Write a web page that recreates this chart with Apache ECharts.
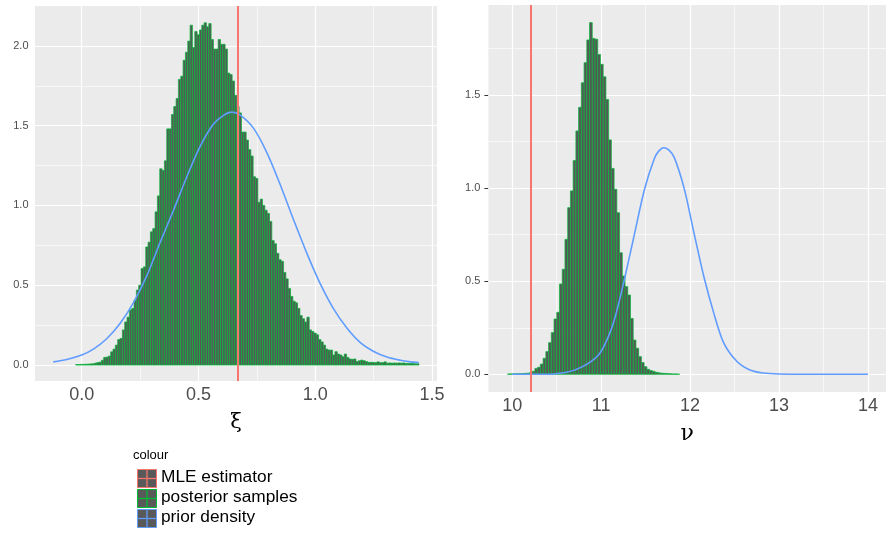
<!DOCTYPE html>
<html>
<head>
<meta charset="utf-8">
<script src="https://cdn.jsdelivr.net/npm/echarts@6/dist/echarts.min.js"></script>
<style>html,body{margin:0;padding:0;background:#fff}#c{width:886px;height:533px}</style>
</head>
<body>
<div id="c"></div>
<script>
// ---------- data ----------
// left panel (xi): histogram of posterior samples
const xiBinStart = -0.026;
const xiBinWidth = 0.01;
const xiHeights = [
  0.003,0.003,0.004,0.004,0.005,0.006,0.007,0.008,0.012,0.015,
  0.018,0.03,0.048,0.05,0.056,0.083,0.10,0.125,0.16,0.167,
  0.22,0.27,0.30,0.345,0.355,0.407,0.47,0.50,0.605,0.615,
  0.74,0.77,0.835,0.855,0.96,1.06,1.23,1.22,1.28,1.48,
  1.48,1.57,1.62,1.67,1.79,1.81,1.91,1.96,2.03,2.13,
  1.99,2.09,2.07,2.10,2.13,2.145,2.12,2.14,2.04,1.98,
  1.98,2.04,2.01,2.01,1.98,1.83,1.82,1.78,1.69,1.62,
  1.58,1.46,1.46,1.41,1.35,1.31,1.18,1.17,1.02,1.04,
  1.00,0.97,0.95,0.90,0.78,0.76,0.70,0.66,0.65,0.58,
  0.54,0.48,0.43,0.40,0.39,0.355,0.31,0.29,0.27,0.30,
  0.22,0.21,0.20,0.19,0.16,0.145,0.125,0.10,0.094,0.094,
  0.063,0.084,0.069,0.063,0.052,0.069,0.048,0.038,0.036,0.038,
  0.022,0.027,0.031,0.027,0.022,0.017,0.017,0.017,0.015,0.02,
  0.015,0.015,0.02,0.012,0.013,0.012,0.013,0.012,0.013,0.012,
  0.013,0.01,0.01,0.01,0.01,0.008,0.008
];
// left panel prior density
const xiPriorX = [-0.122,-0.064,0.0,0.05,0.107,0.164,0.221,0.279,0.336,0.393,0.45,0.507,0.564,0.607,0.643,0.679,0.736,0.793,0.85,0.907,0.964,1.021,1.079,1.136,1.193,1.25,1.307,1.364,1.407,1.443];
const xiPriorY = [0.02,0.035,0.063,0.10,0.165,0.26,0.39,0.56,0.77,0.97,1.18,1.37,1.51,1.565,1.585,1.566,1.483,1.33,1.13,0.91,0.70,0.51,0.35,0.23,0.14,0.085,0.05,0.03,0.02,0.015];
const xiMLE = 0.67;

// right panel (nu)
const nuBinStart = 9.949;
const nuBinWidth = 0.0307;
const nuHeights = [
  0.002,0.002,0.002,0.003,0.003,0.004,0.005,0.006,0.009,0.016,
  0.032,0.038,0.055,0.086,0.122,0.170,0.224,0.297,0.333,0.485,
  0.564,0.725,0.895,0.985,1.148,1.307,1.434,1.566,1.674,1.796,
  1.889,1.804,1.80,1.718,1.665,1.598,1.476,1.259,1.106,0.994,
  0.868,0.653,0.528,0.471,0.426,0.30,0.184,0.14,0.095,0.063,
  0.041,0.027,0.02,0.016,0.011,0.008,0.006,0.005,0.004,0.003,
  0.002,0.002,0.001
];
const nuPriorX = [10.0,10.3,10.6,10.786,10.971,11.08,11.16,11.267,11.378,11.489,11.6,11.65,11.704,11.76,11.822,11.933,12.044,12.155,12.266,12.377,12.525,12.673,12.821,13.006,13.5,14.0];
const nuPriorY = [0,0,0.01,0.04,0.104,0.2,0.31,0.52,0.76,0.995,1.16,1.2,1.217,1.205,1.165,1.0,0.76,0.525,0.33,0.17,0.07,0.023,0.007,0.002,0,0];
const nuMLE = 10.205;

// ticks
const xiTicks = [0, 0.5, 1.0, 1.5];
const xiMinor = [0.25, 0.75, 1.25];
const densTicksL = [0, 0.5, 1.0, 1.5, 2.0];
const densMinorL = [0.25, 0.75, 1.25, 1.75];
const nuTicks = [10, 11, 12, 13, 14];
const nuMinor = [10.5, 11.5, 12.5, 13.5];
const densTicksR = [0, 0.5, 1.0, 1.5];
const densMinorR = [0.25, 0.75, 1.25, 1.75];

const legendTitle = 'colour';
const legendLabels = ['MLE estimator', 'posterior samples', 'prior density'];
const legendColors = ['#F8766D', '#00BA38', '#619CFF'];

// ---------- helpers ----------
const FONT = 'Liberation Sans, Arial, sans-serif';
function histData(start, width, hs) {
  return hs.map((h, i) => [start + i * width, start + (i + 1) * width, h]);
}
function pairs(xs, ys) { return xs.map((x, i) => [x, ys[i]]); }
function gridLines(majX, minX, majY, minY) {
  const d = [];
  minX.forEach(v => d.push({xAxis: v, lineStyle: {width: 0.6}}));
  minY.forEach(v => d.push({yAxis: v, lineStyle: {width: 0.6}}));
  majX.forEach(v => d.push({xAxis: v, lineStyle: {width: 1.2}}));
  majY.forEach(v => d.push({yAxis: v, lineStyle: {width: 1.2}}));
  return {
    silent: true, z: 1, symbol: ['none', 'none'], label: {show: false},
    lineStyle: {color: '#FFFFFF', type: 'solid'}, emphasis: {disabled: true},
    animation: false, data: d
  };
}
function histRender(params, api) {
  const p0 = api.coord([api.value(0), api.value(2)]);
  const p1 = api.coord([api.value(1), 0]);
  return {
    type: 'rect',
    shape: {x: p0[0], y: p0[1], width: p1[0] - p0[0], height: p1[1] - p0[1]},
    style: {fill: '#575757', stroke: '#00BA38', lineWidth: 0.7}
  };
}
function xAxisOpt(gridIndex, min, max, ticks, fmt) {
  return {
    type: 'value', gridIndex, min, max,
    axisLine: {show: false},
    axisTick: {show: true, length: 4, lineStyle: {color: '#333333', width: 1}, customValues: ticks},
    axisLabel: {customValues: ticks, fontFamily: FONT, fontSize: 18, color: '#4D4D4D', margin: 5, formatter: fmt},
    splitLine: {show: false}
  };
}
function yAxisOpt(gridIndex, min, max, ticks, margin) {
  return {
    type: 'value', gridIndex, min, max,
    axisLine: {show: false},
    axisTick: {show: true, length: 4, lineStyle: {color: '#333333', width: 1}, customValues: ticks},
    axisLabel: {customValues: ticks, fontFamily: FONT, fontSize: 11, color: '#4D4D4D', margin: margin, formatter: v => v.toFixed(1)},
    splitLine: {show: false}
  };
}

// ---------- legend graphics ----------
const graphics = [{
  type: 'text', left: 133, top: 449,
  style: {text: legendTitle, font: '13px ' + FONT, fill: '#000'}
}];
legendLabels.forEach((lab, i) => {
  const y0 = 467 + i * 20;
  graphics.push({
    type: 'group', left: 135, top: y0,
    children: [
      {type: 'rect', shape: {x: 0.5, y: 0.5, width: 19, height: 18}, style: {fill: '#595959', stroke: legendColors[i], lineWidth: 1}},
      {type: 'line', shape: {x1: 10, y1: 0.5, x2: 10, y2: 18.5}, style: {stroke: legendColors[i], lineWidth: 1.3}},
      {type: 'line', shape: {x1: 0.5, y1: 9.5, x2: 19.5, y2: 9.5}, style: {stroke: legendColors[i], lineWidth: 1.3}}
    ]
  });
  graphics.push({
    type: 'text', left: 161, top: y0 + 2,
    style: {text: lab, font: '17.3px ' + FONT, fill: '#000'}
  });
});

// ---------- chart ----------
const chart = echarts.init(document.getElementById('c'), null, {renderer: 'canvas'});
chart.setOption({
  animation: false,
  backgroundColor: '#FFFFFF',
  grid: [
    {left: 35, top: 6, width: 402, height: 375, show: true, backgroundColor: '#EBEBEB', borderWidth: 0, containLabel: false},
    {left: 488.4, top: 5, width: 402.7, height: 386.9, show: true, backgroundColor: '#EBEBEB', borderWidth: 0, containLabel: false}
  ],
  xAxis: [
    Object.assign(xAxisOpt(0, -0.2, 1.521, xiTicks, v => v.toFixed(1)), {
      name: 'ξ', nameLocation: 'middle', nameGap: 31,
      nameTextStyle: {fontFamily: 'DejaVu Serif, serif', fontSize: 21, color: '#000'}
    }),
    Object.assign(xAxisOpt(1, 9.733, 14.203, nuTicks, v => String(Math.round(v))), {
      name: 'ν', nameLocation: 'middle', nameGap: 31,
      nameTextStyle: {fontFamily: 'DejaVu Serif, serif', fontSize: 22, color: '#000'}
    })
  ],
  yAxis: [
    yAxisOpt(0, -0.1, 2.25, densTicksL, 6.5),
    yAxisOpt(1, -0.0945, 1.9835, densTicksR, 8)
  ],
  series: [
    {
      type: 'custom', xAxisIndex: 0, yAxisIndex: 0, z: 2, clip: true,
      renderItem: histRender, encode: {x: [0, 1], y: 2},
      data: histData(xiBinStart, xiBinWidth, xiHeights),
      markLine: gridLines(xiTicks, xiMinor, densTicksL, densMinorL)
    },
    {
      type: 'line', xAxisIndex: 0, yAxisIndex: 0, z: 3, smooth: 0.3,
      showSymbol: false, symbol: 'none',
      lineStyle: {color: '#619CFF', width: 1.6},
      data: pairs(xiPriorX, xiPriorY),
      markLine: {silent: true, z: 6, symbol: ['none', 'none'], label: {show: false},
        lineStyle: {color: '#F8766D', width: 2, type: 'solid'}, data: [{xAxis: xiMLE}]}
    },
    {
      type: 'custom', xAxisIndex: 1, yAxisIndex: 1, z: 2, clip: true,
      renderItem: histRender, encode: {x: [0, 1], y: 2},
      data: histData(nuBinStart, nuBinWidth, nuHeights),
      markLine: gridLines(nuTicks, nuMinor, densTicksR, densMinorR)
    },
    {
      type: 'line', xAxisIndex: 1, yAxisIndex: 1, z: 3, smooth: 0.3,
      showSymbol: false, symbol: 'none',
      lineStyle: {color: '#619CFF', width: 1.6},
      data: pairs(nuPriorX, nuPriorY),
      markLine: {silent: true, z: 6, symbol: ['none', 'none'], label: {show: false},
        lineStyle: {color: '#F8766D', width: 2, type: 'solid'}, data: [{xAxis: nuMLE}]}
    }
  ],
  graphic: graphics
});
</script>
</body>
</html>
